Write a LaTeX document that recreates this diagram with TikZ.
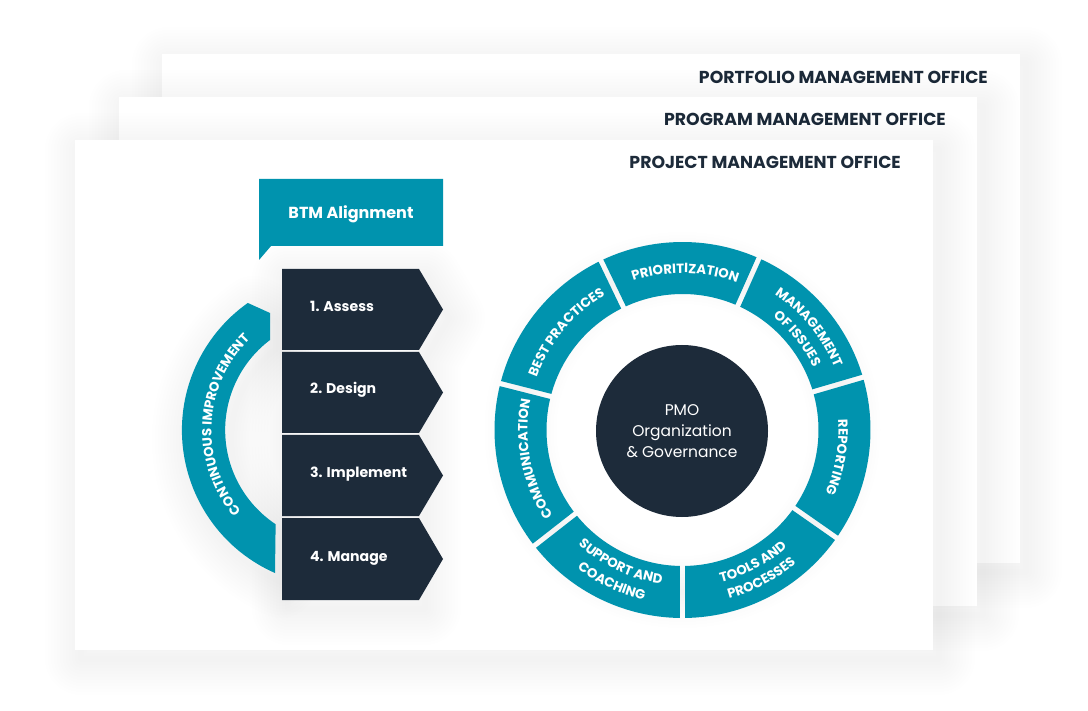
\documentclass[tikz,border=0pt]{standalone}
\usepackage{fontspec}
\setmainfont{Poppins}
\usetikzlibrary{calc,decorations.text}
\definecolor{pmoteal}{HTML}{0093AE}
\definecolor{pmonavy}{HTML}{1D2B3A}
\newcommand{\arcfont}{\fontsize{13.3}{16}\selectfont\bfseries}
\newcommand{\softshadow}[1]{\foreach \g in {6,12,...,72}{\draw[shadowlayer,line width=\g pt] #1;}}
\tikzset{
	shadowlayer/.style={black,opacity=.0045,line join=round,xshift=6pt,yshift=-9pt},
	panel/.style={fill=white},
	officetitle/.style={anchor=east,inner sep=0pt,text=pmonavy,font=\fontsize{17.3}{20}\selectfont\bfseries},
	steplabel/.style={anchor=base west,inner sep=0pt,text=white,font=\fontsize{14.1}{17}\selectfont\bfseries},
	cwtext/.style={decorate,decoration={text along path,text align=center,text color=white,text={|\arcfont|#1}}},
}

\begin{document}
\begin{tikzpicture}[x=1pt,y=1pt]
	\useasboundingbox (0,-711) rectangle (1088,0);
	\coordinate (ring) at (682.5,-430);
	\coordinate (loop) at (338,-430);

	% the three offices
	\softshadow{(162,-54) rectangle (1020,-563)}
	\fill[panel] (162,-54) rectangle (1020,-563);
	\node[officetitle] (portfolio) at (988,-77) {PORTFOLIO MANAGEMENT OFFICE};
	\softshadow{(119,-97) rectangle (977,-606)}
	\fill[panel] (119,-97) rectangle (977,-606);
	\node[officetitle] (program) at (946,-119) {PROGRAM MANAGEMENT OFFICE};
	\softshadow{(75,-140) rectangle (933,-650)}
	\fill[panel] (75,-140) rectangle (933,-650);
	\node[officetitle] (project) at (901,-162) {PROJECT MANAGEMENT OFFICE};

	% shadows of the left column
	\softshadow{(275,-573) arc[start angle=246.2,end angle=125.3,radius=156] -- (270,-313) -- (270,-340) arc[start angle=127.1,end angle=236.4,radius=113] -- cycle}
	\softshadow{(282,-269) -- (419,-269) -- (443,-309) -- (419,-350) -- (419,-600) -- (282,-600) -- cycle}

	% steps
	\foreach \name/\ytop/\ybot/\ylab/\lab in {assess/269/350/312/1. Assess,design/352/433/394/2. Design,implement/435/516/478/3. Implement,manage/518/600/561/4. Manage}{
		\fill[pmonavy] (282,-\ytop) -- (419,-\ytop) -- (443,{-(\ytop+\ybot)/2}) -- (419,-\ybot) -- (282,-\ybot) -- cycle;
		\node[steplabel] (\name) at (310,-\ylab) {\lab};
	}

	% callout
	\fill[pmoteal] (259,-179) -- (443,-179) -- (443,-246) -- (271,-246) -- (259,-260) -- cycle;
	\node[text=white,font=\fontsize{16}{19}\selectfont\bfseries] (btm) at (351,-214) {BTM Alignment};

	% continuous improvement band
	\fill[pmoteal] (275,-573) arc[start angle=246.2,end angle=125.3,radius=156] -- (270,-313) -- (270,-340) arc[start angle=127.1,end angle=236.4,radius=113] -- cycle;
	\path[cwtext=CONTINUOUS IMPROVEMENT] (loop) ++(237:126.5) arc[start angle=237,end angle=117,radius=126.5];

	% ring
	\softshadow{(ring) circle[radius=162]}
	\foreach \from/\to in {66/115.7,16.3/66,-35/16.3,-90/-35,-142/-90,-194.3/-142,-244.3/-194.3}{
		\fill[pmoteal] (ring) ++({\from+.8}:188) arc[start angle=\from+.8,end angle=\to-.8,radius=188]
			-- ($(ring)+({\to-1.1}:136)$) arc[start angle=\to-1.1,end angle=\from+1.1,radius=136] -- cycle;
	}
	\fill[pmonavy] (682,-431) circle[radius=86];
	\node[align=center,text=white,font=\fontsize{15.5}{21}\selectfont] (pmo) at (682,-431) {PMO\\Organization\\\& Governance};

	\path[cwtext=PRIORITIZATION] (ring) ++(149:157) arc[start angle=149,end angle=29,radius=157];
	\path[cwtext=MANAGEMENT] (ring) ++(99:164) arc[start angle=99,end angle=-21,radius=164];
	\path[cwtext=OF ISSUES] (ring) ++(98.5:145) arc[start angle=98.5,end angle=-21.5,radius=145];
	\path[cwtext=REPORTING] (ring) ++(50:156) arc[start angle=50,end angle=-70,radius=156];
	\path[cwtext=TOOLS AND] (ring) ++(-122:157) arc[start angle=-122,end angle=-2,radius=157];
	\path[cwtext=PROCESSES] (ring) ++(-122:175) arc[start angle=-122,end angle=-2,radius=175];
	\path[cwtext=SUPPORT AND] (ring) ++(-175:155) arc[start angle=-175,end angle=-55,radius=155];
	\path[cwtext=COACHING] (ring) ++(-175:174) arc[start angle=-175,end angle=-55,radius=174];
	\path[cwtext=COMMUNICATION] (ring) ++(251:155) arc[start angle=251,end angle=131,radius=155];
	\path[cwtext=BEST PRACTICES] (ring) ++(200:155) arc[start angle=200,end angle=80,radius=155];
\end{tikzpicture}
\end{document}
